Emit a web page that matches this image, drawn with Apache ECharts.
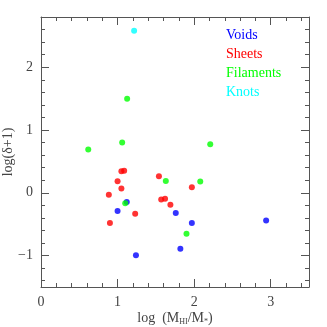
<!DOCTYPE html>
<html>
<head>
<meta charset="utf-8">
<script src="https://cdn.jsdelivr.net/npm/echarts@6/dist/echarts.min.js"></script>
<style>html,body{margin:0;padding:0;background:#fff}#c{width:327px;height:327px}</style>
</head>
<body>
<div id="c"></div>
<script>
var voids = [[1.00,-0.29],[1.12,-0.145],[1.24,-0.995],[1.76,-0.32],[1.82,-0.89],[1.97,-0.48],[2.94,-0.44]];
var sheets = [[0.886,-0.03],[0.90,-0.48],[1.00,0.185],[1.05,0.07],[1.05,0.345],[1.086,0.35],[1.23,-0.335],[1.54,0.265],[1.57,-0.107],[1.62,-0.096],[1.69,-0.19],[1.97,0.09]];
var filaments = [[0.617,0.69],[1.06,0.80],[1.125,1.50],[1.10,-0.165],[1.63,0.19],[1.90,-0.65],[2.08,0.18],[2.21,0.775]];
var knots = [[1.216,2.58]];
var xMajor = [0,1,2,3];
var yMajor = [-1,0,1,2];
var xMinor = [0.2,0.4,0.6,0.8,1.2,1.4,1.6,1.8,2.2,2.4,2.6,2.8,3.2,3.4];
var yMinor = [-1.4,-1.2,-0.8,-0.6,-0.4,-0.2,0.2,0.4,0.6,0.8,1.2,1.4,1.6,1.8,2.2,2.4,2.6];
var names = ['Voids','Sheets','Filaments','Knots'];
var colors = ['#0000ff','#ff0000','#00ff00','#00ffff'];

var lineC = '#555';
var font = 'Liberation Serif';
function mkAxis(pos, min, max, vals, len, labels, isMain) {
  return {
    type: 'value', position: pos, min: min, max: max, nameMoveOverlap: false,
    axisLine: {show: !!isMain, onZero: false, lineStyle: {color: lineC, width: 1}},
    axisTick: {show: true, inside: true, length: len, customValues: vals, lineStyle: {color: lineC, width: 1}},
    axisLabel: labels ? {show: true, customValues: vals, color: '#444', fontFamily: font, fontSize: 14, margin: 8,
      formatter: function(v){ return String(v).replace('-', '\u2212'); }} : {show: false},
    splitLine: {show: false}
  };
}
var xA = [
  mkAxis('bottom', 0, 3.5, xMajor, 8, true, true),
  mkAxis('bottom', 0, 3.5, xMinor, 4, false, false),
  mkAxis('top', 0, 3.5, xMajor, 8, false, true),
  mkAxis('top', 0, 3.5, xMinor, 4, false, false)
];
xA[0].name = 'log  (M{s|HI}/M{s|*})';
xA[0].nameLocation = 'middle';
xA[0].nameGap = 23;
xA[0].nameTextStyle = {color: '#444', fontFamily: font, fontSize: 14, rich: {s: {fontSize: 8, fontFamily: font, color: '#444', padding: [8,0,0,0]}}};
var yA = [
  mkAxis('left', -1.5, 2.8, yMajor, 8, true, true),
  mkAxis('left', -1.5, 2.8, yMinor, 4, false, false),
  mkAxis('right', -1.5, 2.8, yMajor, 8, false, true),
  mkAxis('right', -1.5, 2.8, yMinor, 4, false, false)
];
yA[0].name = 'log(\u03b4+1)';
yA[0].nameLocation = 'middle';
yA[0].nameGap = 26;
yA[0].nameTextStyle = {color: '#444', fontFamily: font, fontSize: 14};

var datasets = [voids, sheets, filaments, knots];
var series = datasets.map(function(d, i){
  return {type: 'scatter', name: names[i], data: d, symbolSize: 6, xAxisIndex: 0, yAxisIndex: 0,
    itemStyle: {color: colors[i]}};
});

var chart = echarts.init(document.getElementById('c'), null, {renderer: 'canvas'});
chart.setOption({
  animation: false,
  backgroundColor: '#fff',
  grid: {left: 41, right: 18, top: 17, bottom: 40, containLabel: false, outerBoundsMode: 'none'},
  legend: {
    orient: 'vertical', left: 216, top: 23, itemWidth: 0, itemHeight: 0, itemGap: 5, icon: 'none',
    selectedMode: false,
    data: names.map(function(n, i){ return {name: n, textStyle: {color: colors[i], fontFamily: font, fontSize: 14}}; })
  },
  xAxis: xA,
  yAxis: yA,
  series: series
});
</script>
</body>
</html>
